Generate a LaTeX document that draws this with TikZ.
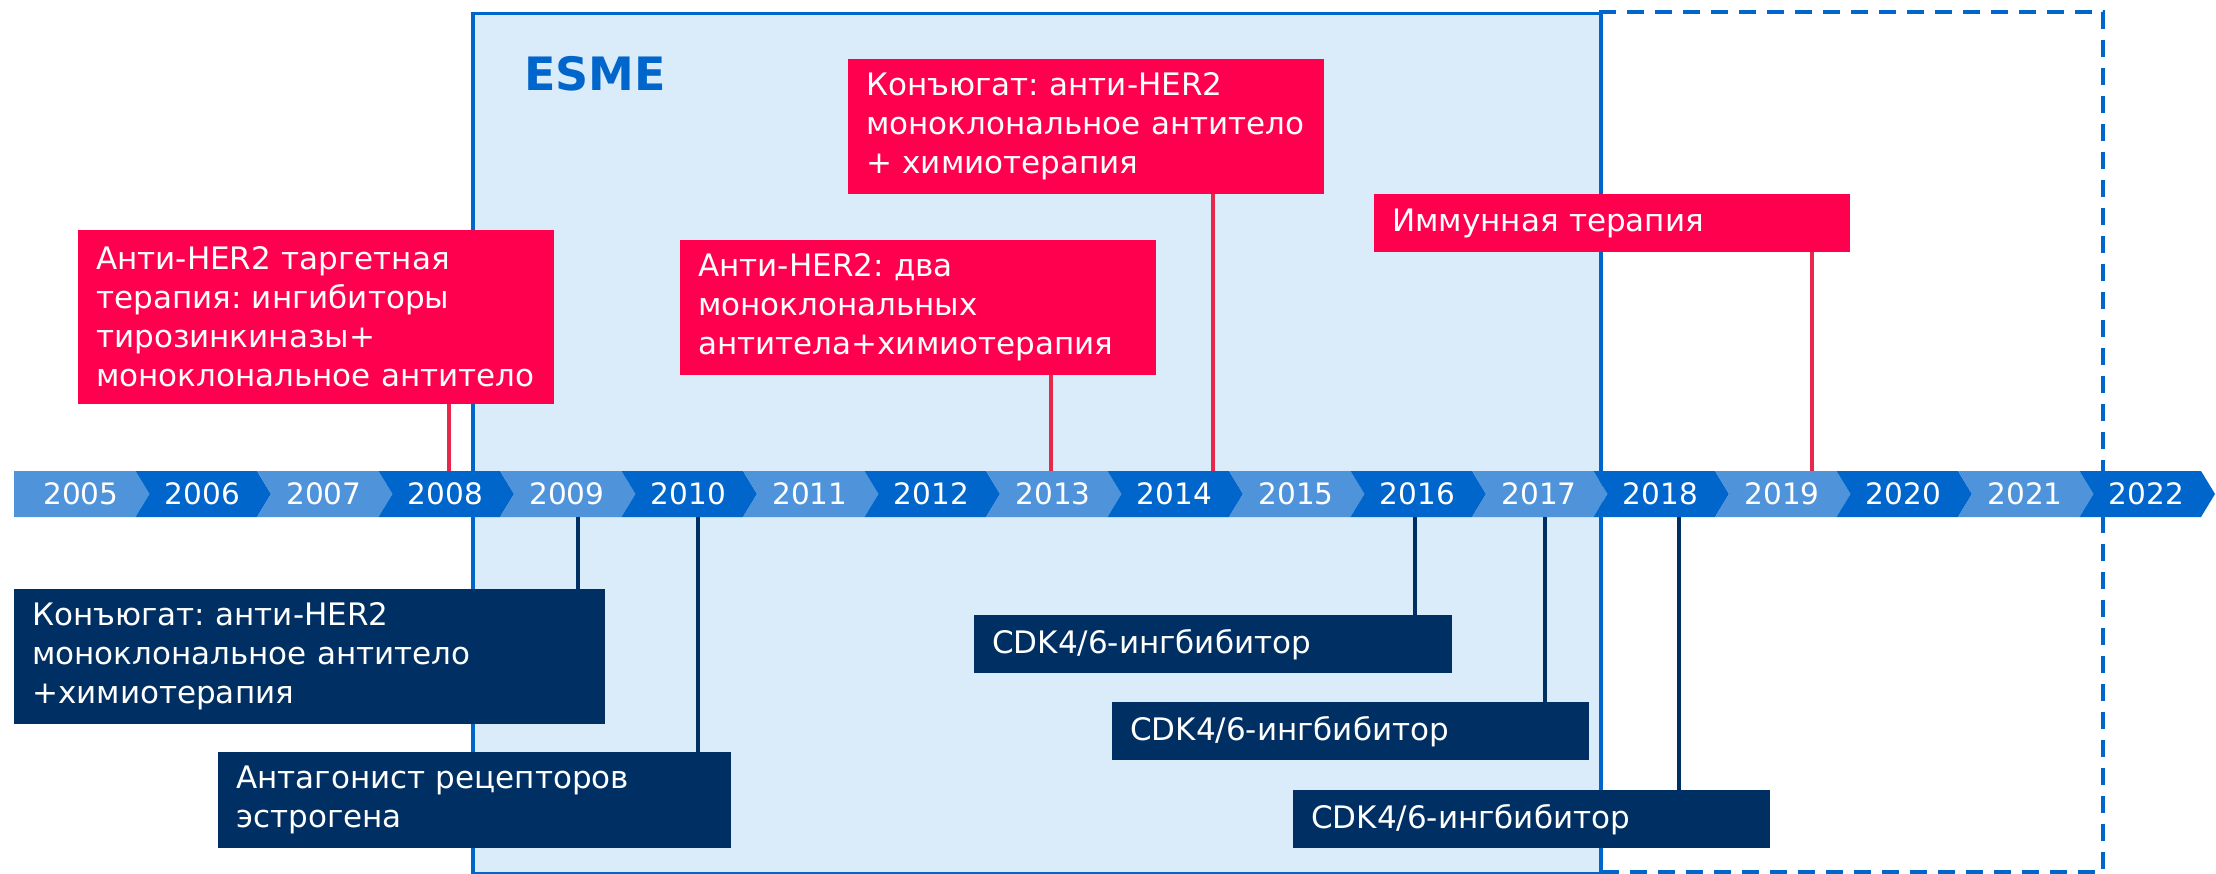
\documentclass[tikz,border=0pt]{standalone}
\usepackage{fontspec}
\setmainfont{DejaVu Sans}
\definecolor{hotred}{HTML}{FF004E}
\definecolor{redline}{HTML}{E8284A}
\definecolor{navy}{HTML}{003063}
\definecolor{bandLight}{HTML}{4F94DA}
\definecolor{bandDark}{HTML}{0066CC}
\definecolor{esmefill}{HTML}{DAEBF9}
\definecolor{esmeline}{HTML}{0066CC}
\tikzset{
  boxbase/.style={anchor=north west, align=left, inner xsep=18pt, inner ysep=0pt,
    text=white, font=\fontsize{31}{39}\selectfont},
  redbox/.style={boxbase, fill=hotred},
  navybox/.style={boxbase, fill=navy},
  redconn/.style={draw=redline, line width=4pt},
  navyconn/.style={draw=navy, line width=4pt},
  yearlbl/.style={text=white, font=\fontsize{29.5}{29.5}\selectfont, inner sep=0pt},
}
\begin{document}
\frenchspacing
\begin{tikzpicture}[x=1pt,y=-1pt]
\useasboundingbox (0,0) rectangle (2216,874);
% ESME region
\node[draw=esmeline, fill=esmefill, line width=3.5pt, anchor=north west,
  minimum width=1128pt, minimum height=860pt, inner sep=0pt] (esme) at (471,12) {};
\node[anchor=west, text=esmeline, font=\bfseries\fontsize{46}{46}\selectfont, inner sep=0pt] (esmelbl) at (524,74) {ESME};
\coordinate (d1) at (1599,12);
\coordinate (d2) at (2103,12);
\coordinate (d3) at (2103,872);
\coordinate (d4) at (1599,872);
\draw[esmeline, line width=3.5pt, dash pattern=on 17pt off 11pt] (d1) -- (d2) -- (d3) -- (d4);
% timeline band
\foreach \i in {0,...,17}{
  \pgfmathsetmacro{\L}{14+121.5*\i}
  \pgfmathsetmacro{\R}{\L+121.5}
  \pgfmathtruncatemacro{\yr}{2005+\i}
  \pgfmathtruncatemacro{\odd}{mod(\i,2)}
  \ifnum\odd=1 \def\segcol{bandDark}\else\def\segcol{bandLight}\fi
  \ifnum\i=0
    \fill[\segcol] (\L,471) -- (\R,471) -- (\R+14,494) -- (\R,517) -- (\L,517) -- cycle;
  \else
    \fill[\segcol] (\L,471) -- (\R,471) -- (\R+14,494) -- (\R,517) -- (\L,517) -- (\L+14,494) -- cycle;
  \fi
  \node[yearlbl] (y\yr) at (\L+67,494) {\yr};
}
% boxes
\node[redbox, text width=440pt, minimum height=174pt] (b1) at (78,230)
  {Анти-HER2 таргетная\\терапия: ингибиторы\\тирозинкиназы+\\моноклональное антитело};
\node[redbox, text width=440pt, minimum height=135pt] (b2) at (848,59)
  {Конъюгат: анти-HER2\\моноклональное антитело\\+ химиотерапия};
\node[redbox, text width=440pt, minimum height=135pt] (b3) at (680,240)
  {Анти-HER2: два\\моноклональных\\антитела+химиотерапия};
\node[redbox, text width=440pt, minimum height=58pt] (b4) at (1374,194)
  {Иммунная терапия};
\node[navybox, text width=555pt, minimum height=135pt] (b5) at (14,589)
  {Конъюгат: анти-HER2\\моноклональное антитело\\+химиотерапия};
\node[navybox, text width=477pt, minimum height=96pt] (b6) at (218,752)
  {Антагонист рецепторов\\эстрогена};
\node[navybox, text width=442pt, minimum height=58pt] (b7) at (974,615)
  {CDK4/6-ингбибитор};
\node[navybox, text width=441pt, minimum height=58pt] (b8) at (1112,702)
  {CDK4/6-ингбибитор};
\node[navybox, text width=441pt, minimum height=58pt] (b9) at (1293,790)
  {CDK4/6-ингбибитор};
% connectors
\coordinate (t1) at (449,471);
\coordinate (t2) at (1213,471);
\coordinate (t3) at (1051,471);
\coordinate (t4) at (1812,471);
\coordinate (s5) at (578,517);
\coordinate (s6) at (698,517);
\coordinate (s7) at (1415,517);
\coordinate (s8) at (1545,517);
\coordinate (s9) at (1679,517);
\draw[redconn] (t1) -- (t1 |- b1.south);
\draw[redconn] (t2) -- (t2 |- b2.south);
\draw[redconn] (t3) -- (t3 |- b3.south);
\draw[redconn] (t4) -- (t4 |- b4.south);
\draw[navyconn] (s5) -- (s5 |- b5.north);
\draw[navyconn] (s6) -- (s6 |- b6.north);
\draw[navyconn] (s7) -- (s7 |- b7.north);
\draw[navyconn] (s8) -- (s8 |- b8.north);
\draw[navyconn] (s9) -- (s9 |- b9.north);
\end{tikzpicture}
\end{document}
